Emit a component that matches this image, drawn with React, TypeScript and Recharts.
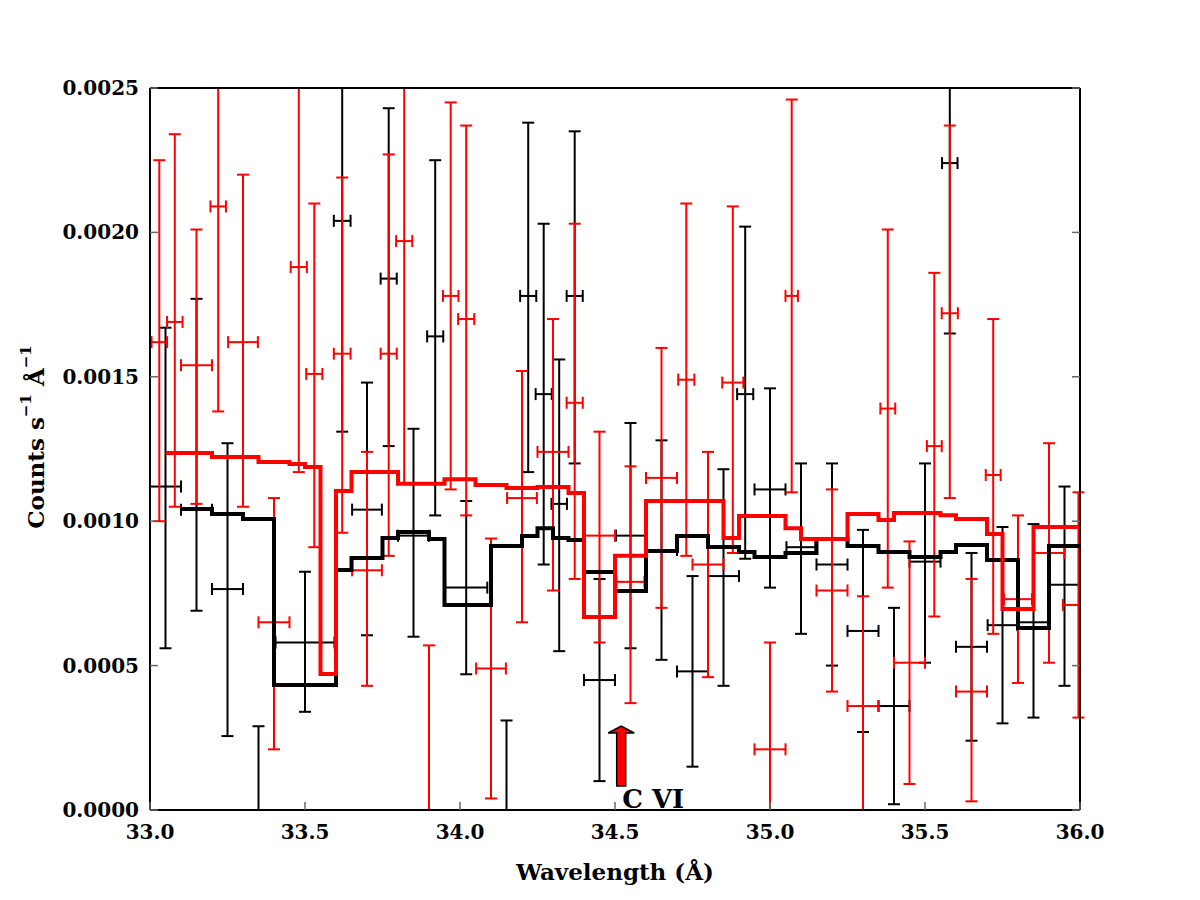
import React from "react";
import {
  ComposedChart,
  Scatter,
  Line,
  XAxis,
  YAxis,
  ErrorBar,
  ReferenceDot,
  Label,
} from "recharts";

// black (first order) data points
const blackWave = [33.05, 33.15, 33.25, 33.35, 33.5, 33.62, 33.7, 33.77, 33.85, 33.92, 34.02, 34.15, 34.22, 34.27, 34.32, 34.37, 34.45, 34.55, 34.65, 34.75, 34.85, 34.92, 35.0, 35.1, 35.2, 35.3, 35.4, 35.5, 35.58, 35.65, 35.75, 35.85, 35.95];
const blackHalfWidth = [0.05, 0.05, 0.05, 0.05, 0.095, 0.027, 0.048, 0.026, 0.05, 0.026, 0.068, 0.05, 0.026, 0.026, 0.025, 0.026, 0.05, 0.047, 0.05, 0.05, 0.05, 0.026, 0.05, 0.047, 0.05, 0.05, 0.05, 0.05, 0.025, 0.05, 0.048, 0.05, 0.05];
const blackRate = [0.00112, 0.00104, 0.000765, -0.0002, 0.00058, 0.00204, 0.00104, 0.00184, 0.00095, 0.00164, 0.00077, -0.0002, 0.00178, 0.00144, 0.00106, 0.00178, 0.00045, 0.00095, 0.0009, 0.00048, 0.00081, 0.00144, 0.00111, 0.00091, 0.00085, 0.00062, 0.00036, 0.00086, 0.00224, 0.000565, 0.00064, 0.00065, 0.00078];
const blackLow = [0.00056, 0.00069, 0.000256, -0.0006, 0.00034, 0.00131, 0.000605, 0.00126, 0.0006, 0.00102, 0.00047, -0.0006, 0.00117, 0.00085, 0.00055, 0.0012, 0.0001, 0.00056, 0.00052, 0.00015, 0.00043, 0.00087, 0.00077, 0.00061, 0.0005, 0.00027, 0.00002, 0.00051, 0.00165, 0.00024, 0.0003, 0.00032, 0.00043];
const blackHigh = [0.00167, 0.00177, 0.00127, 0.00029, 0.000825, 0.0029, 0.00148, 0.00243, 0.00132, 0.00225, 0.00107, 0.00031, 0.00238, 0.00203, 0.00156, 0.00235, 0.0008, 0.00134, 0.00128, 0.00081, 0.00118, 0.00202, 0.00146, 0.0012, 0.0012, 0.00097, 0.0007, 0.0012, 0.0029, 0.00089, 0.00098, 0.00099, 0.00112];

// red data points
const redWave = [33.03, 33.08, 33.15, 33.22, 33.3, 33.4, 33.48, 33.53, 33.62, 33.7, 33.77, 33.82, 33.9, 33.97, 34.02, 34.1, 34.2, 34.3, 34.37, 34.45, 34.55, 34.65, 34.73, 34.8, 34.88, 35.0, 35.07, 35.2, 35.3, 35.38, 35.45, 35.53, 35.58, 35.65, 35.72, 35.8, 35.9, 35.995];
const redHalfWidth = [0.025, 0.025, 0.05, 0.025, 0.048, 0.05, 0.026, 0.026, 0.027, 0.048, 0.026, 0.026, 0.05, 0.025, 0.026, 0.048, 0.048, 0.05, 0.026, 0.05, 0.045, 0.05, 0.026, 0.05, 0.034, 0.05, 0.02, 0.05, 0.05, 0.024, 0.05, 0.024, 0.026, 0.05, 0.024, 0.045, 0.05, 0.05];
const redRate = [0.00162, 0.00169, 0.00154, 0.00209, 0.00162, 0.00065, 0.00188, 0.00151, 0.00158, 0.00083, 0.00158, 0.00197, -0.0001, 0.00178, 0.0017, 0.00049, 0.00108, 0.00124, 0.00141, 0.00095, 0.00079, 0.00115, 0.00149, 0.00085, 0.00148, 0.00021, 0.00178, 0.00076, 0.00036, 0.00139, 0.00051, 0.00126, 0.00172, 0.00041, 0.00116, 0.00073, 0.00089, 0.00071];
const redLow = [0.001, 0.00105, 0.00106, 0.00138, 0.00105, 0.00021, 0.00117, 0.00091, 0.00096, 0.00043, 0.00088, 0.00113, -0.0006, 0.00111, 0.00102, 0.00004, 0.00065, 0.00076, 0.0008, 0.00058, 0.00037, 0.0007, 0.00088, 0.00046, 0.00089, -0.0002, 0.0011, 0.00041, -0.0001, 0.00077, 0.00009, 0.00067, 0.00108, 0.00003, 0.00061, 0.00044, 0.00051, 0.00032];
const redHigh = [0.00225, 0.00234, 0.00201, 0.0029, 0.0022, 0.00108, 0.0029, 0.0021, 0.00219, 0.00124, 0.00227, 0.0029, 0.00057, 0.00245, 0.00237, 0.00094, 0.00152, 0.0017, 0.00203, 0.00131, 0.00119, 0.0016, 0.0021, 0.00124, 0.00209, 0.00058, 0.00246, 0.00111, 0.00074, 0.00201, 0.00093, 0.00186, 0.00237, 0.0008, 0.0017, 0.00102, 0.00127, 0.0011];

// step models: bin edges and the value in each bin
const blackModelEdges = [33.1, 33.2, 33.3, 33.4, 33.6, 33.65, 33.75, 33.8, 33.9, 33.95, 34.1, 34.2, 34.25, 34.3, 34.35, 34.4, 34.5, 34.6, 34.7, 34.8, 34.9, 34.95, 35.05, 35.15, 35.25, 35.35, 35.45, 35.55, 35.6, 35.7, 35.8, 35.9, 36.0];
const blackModelRate = [0.001042, 0.001025, 0.001008, 0.000433, 0.000831, 0.000873, 0.000942, 0.000963, 0.000938, 0.00071, 0.000914, 0.000949, 0.000976, 0.000942, 0.000935, 0.000824, 0.000758, 0.000897, 0.000949, 0.000911, 0.000893, 0.000876, 0.00089, 0.000938, 0.000914, 0.000893, 0.000876, 0.000893, 0.000918, 0.000866, 0.00063, 0.000914];
const redModelEdges = [33.05, 33.2, 33.35, 33.45, 33.5, 33.55, 33.6, 33.65, 33.8, 33.95, 34.05, 34.15, 34.25, 34.35, 34.4, 34.5, 34.6, 34.85, 34.9, 35.05, 35.1, 35.25, 35.35, 35.4, 35.55, 35.6, 35.7, 35.75, 35.85, 36.0];
const redModelRate = [0.001236, 0.001222, 0.001205, 0.001198, 0.001188, 0.000471, 0.001105, 0.00117, 0.00113, 0.001145, 0.001125, 0.001115, 0.001118, 0.001098, 0.000668, 0.00088, 0.00107, 0.000942, 0.001018, 0.000976, 0.000938, 0.001025, 0.001004, 0.001028, 0.001021, 0.001008, 0.000956, 0.000696, 0.00098];

const xTicks = [33.0, 33.5, 34.0, 34.5, 35.0, 35.5, 36.0];
const yTicks = [0, 0.0005, 0.001, 0.0015, 0.002, 0.0025];

const lineLabel = { x: 34.52, y: 0, text: "C VI" };

const X_MIN = 33;
const X_MAX = 36;
const Y_MIN = 0;
const Y_MAX = 0.0025;

const FONT = "'DejaVu Serif', serif";

// errors are cut at the plot edges, the way the figure clips them
const toPoints = (w: number[], hw: number[], r: number[], lo: number[], hi: number[]) =>
  w.map((x, i) => ({
    x,
    y: r[i],
    xe: r[i] >= Y_MIN ? [Math.min(hw[i], x - X_MIN), Math.min(hw[i], X_MAX - x)] : null,
    ye: [r[i] - Math.max(lo[i], Y_MIN), Math.min(hi[i], Y_MAX) - r[i]],
  }));

const toSteps = (edges: number[], rates: number[]) =>
  edges.map((x, i) => ({ x, y: rates[Math.min(i, rates.length - 1)] }));

const blackPoints = toPoints(blackWave, blackHalfWidth, blackRate, blackLow, blackHigh);
const redPoints = toPoints(redWave, redHalfWidth, redRate, redLow, redHigh);
const blackModel = toSteps(blackModelEdges, blackModelRate);
const redModel = toSteps(redModelEdges, redModelRate);

const XTick = (props: any) => {
  const { x, y, payload } = props;
  return (
    <g>
      <line x1={x} y1={y} x2={x} y2={y - 8} stroke="#666" strokeWidth={1.5} />
      <text x={x} y={y + 29} textAnchor="middle" fontFamily={FONT} fontWeight="bold" fontSize={20} fill="#000">
        {payload.value.toFixed(1)}
      </text>
    </g>
  );
};

const YTick = (props: any) => {
  const { x, y, payload } = props;
  return (
    <g>
      <line x1={x} y1={y} x2={x + 8} y2={y} stroke="#666" strokeWidth={1.5} />
      <text x={x - 11} y={y + 7} textAnchor="end" fontFamily={FONT} fontWeight="bold" fontSize={20} fill="#000">
        {payload.value.toFixed(4)}
      </text>
    </g>
  );
};

const TopTick = (props: any) => {
  const { x, y } = props;
  return <line x1={x} y1={y} x2={x} y2={y + 8} stroke="#666" strokeWidth={1.5} />;
};

const RightTick = (props: any) => {
  const { x, y } = props;
  return <line x1={x} y1={y} x2={x - 8} y2={y} stroke="#666" strokeWidth={1.5} />;
};

const XTitle = (props: any) => {
  const vb = props.viewBox;
  return (
    <text x={vb.x + vb.width / 2} y={vb.y + 70} textAnchor="middle" fontFamily={FONT} fontWeight="bold" fontSize={23} fill="#000">
      Wavelength (Å)
    </text>
  );
};

const YTitle = (props: any) => {
  const vb = props.viewBox;
  const cx = vb.x + 27;
  const cy = vb.y + vb.height / 2 - 12;
  return (
    <text
      x={cx}
      y={cy}
      transform={`rotate(-90 ${cx} ${cy})`}
      textAnchor="middle"
      dominantBaseline="central"
      fontFamily={FONT}
      fontWeight="bold"
      fontSize={23}
      fill="#000"
    >
      Counts s
      <tspan fontSize={15} dy={-9}>−1</tspan>
      <tspan dy={9}>{"  Å"}</tspan>
      <tspan fontSize={15} dy={-9}>−1</tspan>
    </text>
  );
};

const ArrowMark = (props: any) => {
  const { cx, cy } = props;
  const pts = [
    [cx - 4.5, cy - 24],
    [cx - 4.5, cy - 77],
    [cx - 13, cy - 77],
    [cx, cy - 84],
    [cx + 13, cy - 77],
    [cx + 4.5, cy - 77],
    [cx + 4.5, cy - 24],
  ]
    .map((p) => p.join(","))
    .join(" ");
  return (
    <g>
      <polygon points={pts} fill="#ff0000" stroke="#000" strokeWidth={1.5} />
      <text x={cx + 1} y={cy - 2} fontFamily={FONT} fontWeight="bold" fontSize={26} fill="#000">
        {lineLabel.text}
      </text>
    </g>
  );
};

const App: React.FC = () => {
  return (
    <ComposedChart width={1184} height={880} margin={{ top: 0, right: 0, bottom: 0, left: 0 }}>
      <XAxis
        dataKey="x"
        type="number"
        domain={[X_MIN, X_MAX]}
        ticks={xTicks}
        interval={0}
        allowDataOverflow
        height={78}
        tickSize={0}
        tickMargin={0}
        tickLine={false}
        tick={<XTick />}
        axisLine={{ stroke: "#000", strokeWidth: 2 }}
      >
        <Label content={<XTitle />} />
      </XAxis>
      <XAxis
        xAxisId="top"
        orientation="top"
        type="number"
        domain={[X_MIN, X_MAX]}
        ticks={xTicks}
        interval={0}
        allowDataOverflow
        height={80}
        tickSize={0}
        tickMargin={0}
        tickLine={false}
        tick={<TopTick />}
        axisLine={{ stroke: "#000", strokeWidth: 2 }}
      />
      <YAxis
        dataKey="y"
        type="number"
        domain={[Y_MIN, Y_MAX]}
        ticks={yTicks}
        interval={0}
        allowDataOverflow
        width={142}
        tickSize={0}
        tickMargin={0}
        tickLine={false}
        tick={<YTick />}
        axisLine={{ stroke: "#000", strokeWidth: 2 }}
      >
        <Label content={<YTitle />} />
      </YAxis>
      <YAxis
        yAxisId="right"
        orientation="right"
        type="number"
        domain={[Y_MIN, Y_MAX]}
        ticks={yTicks}
        interval={0}
        allowDataOverflow
        width={112}
        tickSize={0}
        tickMargin={0}
        tickLine={false}
        tick={<RightTick />}
        axisLine={{ stroke: "#000", strokeWidth: 2 }}
      />

      <Scatter data={blackPoints} dataKey="y" shape={() => <g />} isAnimationActive={false}>
        <ErrorBar dataKey="ye" direction="y" width={6} stroke="#000" strokeWidth={2} isAnimationActive={false} />
        <ErrorBar dataKey="xe" direction="x" width={6} stroke="#000" strokeWidth={2} isAnimationActive={false} />
      </Scatter>
      <Scatter data={redPoints} dataKey="y" shape={() => <g />} isAnimationActive={false}>
        <ErrorBar dataKey="ye" direction="y" width={6} stroke="#ff0000" strokeWidth={2} isAnimationActive={false} />
        <ErrorBar dataKey="xe" direction="x" width={6} stroke="#ff0000" strokeWidth={2} isAnimationActive={false} />
      </Scatter>

      <Line data={blackModel} dataKey="y" type="stepAfter" stroke="#000" strokeWidth={4} dot={false} isAnimationActive={false} />
      <Line data={redModel} dataKey="y" type="stepAfter" stroke="#ff0000" strokeWidth={4} dot={false} isAnimationActive={false} />

      <ReferenceDot x={lineLabel.x} y={lineLabel.y} r={0} ifOverflow="visible" shape={<ArrowMark />} />
    </ComposedChart>
  );
};

export default App;
